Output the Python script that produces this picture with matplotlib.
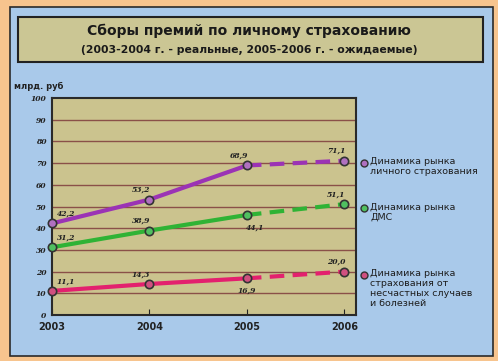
import matplotlib
matplotlib.use('Agg')
import matplotlib.pyplot as plt
from matplotlib.patches import Rectangle

years = [2003, 2004, 2005, 2006]
personal = [42.2, 53.2, 68.9, 71.1]
dms = [31.2, 38.9, 46.1, 51.1]
accident = [11.1, 14.3, 16.9, 20.0]
personal_lbl = ['42,2', '53,2', '68,9', '71,1']
dms_lbl = ['31,2', '38,9', '44,1', '51,1']
accident_lbl = ['11,1', '14,3', '16,9', '20,0']
series_names = ['Динамика рынка\nличного страхования',
                'Динамика рынка\nДМС',
                'Динамика рынка\nстрахования от\nнесчастных случаев\nи болезней']
colors = ['#9b33b5', '#2fb335', '#e3206e']
face = ['#b070c0', '#50c060', '#d05080']

fig = plt.figure(figsize=(4.98, 3.61), dpi=100)
fig.patch.set_facecolor('#f7c48e')

# blue panel
fig.add_artist(Rectangle((10/498, 1-356/361), 483/498, 349/361, transform=fig.transFigure,
                         facecolor='#a9c9ea', edgecolor='#2a2a2a', lw=1.2, zorder=-5))
# title box
fig.add_artist(Rectangle((18/498, 1-62/361), 465/498, 45/361, transform=fig.transFigure,
                         facecolor='#cbc694', edgecolor='#222222', lw=1.5, zorder=-4))
fig.text(0.5, 1-31/361, 'Сборы премий по личному страхованию', ha='center', va='center',
         fontsize=10, fontweight='bold', color='#1a1a1a')
fig.text(0.5, 1-50/361, '(2003-2004 г. - реальные, 2005-2006 г. - ожидаемые)', ha='center',
         va='center', fontsize=7.8, fontweight='bold', color='#1a1a1a')
fig.text(14/498, 1-86/361, 'млрд. руб', ha='left', va='center', fontsize=6, fontweight='bold',
         color='#222222')

ax = fig.add_axes([52/498, 46/361, 304/498, 217/361])
ax.set_zorder(2)
ax.set_facecolor('#cbc38e')
ax.set_xlim(2003, 2006.12)
ax.set_ylim(0, 100)
ax.set_yticks(range(0, 101, 10))
ax.set_yticklabels([str(v) for v in range(0, 101, 10)], fontsize=5.5, fontstyle='italic',
                   fontweight='bold', family='DejaVu Serif', color='#222222')
ax.set_xticks(years)
ax.set_xticklabels([str(y) for y in years], fontsize=7, fontweight='bold', color='#222222')
ax.tick_params(axis='y', length=0, pad=4)
ax.tick_params(axis='x', direction='in', length=4, pad=5, color='#222222')
for y in range(10, 100, 10):
    ax.axhline(y, color='#8a5048', lw=1.0, zorder=1)
for s in ax.spines.values():
    s.set_color('#2a2a2a')
    s.set_linewidth(1.5)

offsets = [
    [(10, 7), (-6, 7), (-6, 7), (-6, 7)],
    [(10, 7), (-6, 7), (6, -9), (-6, 7)],
    [(10, 7), (-6, 7), (0, -9), (-6, 7)],
]
for data, lbls, c, fc, offs in zip([personal, dms, accident],
                                   [personal_lbl, dms_lbl, accident_lbl], colors, face, offsets):
    ax.plot(years[:3], data[:3], color=c, lw=3, zorder=3, solid_capstyle='round')
    ax.plot(years[2:], data[2:], color=c, lw=3, ls=(0, (3.5, 2)), zorder=3)
    ax.plot(years, data, 'o', ms=6, mfc=fc, mec='#333333', mew=1.2, zorder=4, clip_on=False)
    for x, y, t, (dx, dy) in zip(years, data, lbls, offs):
        ax.annotate(t, (x, y), xytext=(dx, dy), textcoords='offset points', ha='center',
                    va='center', fontsize=5.5, fontstyle='italic', fontweight='bold',
                    family='DejaVu Serif', color='#222222', zorder=5)

# legend
leg_y = [163, 208, 275]
for name, c, fc, yy in zip(series_names, colors, face, leg_y):
    fig.add_artist(plt.Line2D([364/498], [1-yy/361], marker='o', ms=5, mfc=fc, mec='#333333',
                              mew=1, transform=fig.transFigure))
    fig.text(370/498, 1-(yy-5.5)/361, name, ha='left', va='top', fontsize=6.8,
             color='#1e1e1e', linespacing=1.1)

fig.savefig('out.png', dpi=100, facecolor=fig.get_facecolor())
